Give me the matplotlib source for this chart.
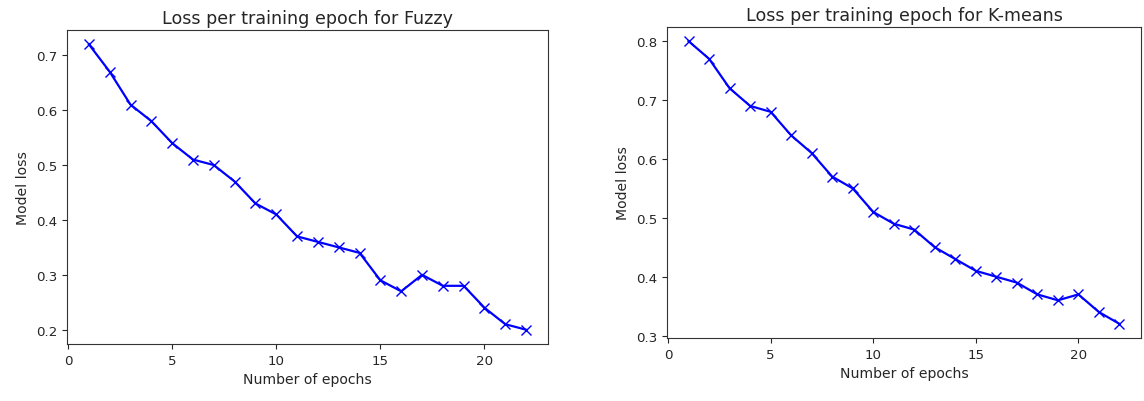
import matplotlib
matplotlib.use("Agg")
import matplotlib.pyplot as plt

# epochs and losses
epochs = list(range(1, 23))
fuzzy_loss = [0.72, 0.67, 0.61, 0.58, 0.54, 0.51, 0.50, 0.47, 0.43, 0.41, 0.37,
              0.36, 0.35, 0.34, 0.29, 0.27, 0.30, 0.28, 0.28, 0.24, 0.21, 0.20]
kmeans_loss = [0.80, 0.77, 0.72, 0.69, 0.68, 0.64, 0.61, 0.57, 0.55, 0.51, 0.49,
               0.48, 0.45, 0.43, 0.41, 0.40, 0.39, 0.37, 0.36, 0.37, 0.34, 0.32]

titles = ["Loss per training epoch for Fuzzy", "Loss per training epoch for K-means"]
series = [fuzzy_loss, kmeans_loss]

TICK_SIZE = 9.6
LABEL_SIZE = 10.1
TITLE_SIZE = 12.6
TEXT_COLOR = "#262626"

fig = plt.figure(figsize=(11.44, 4.02), dpi=100)
axes = [
    fig.add_axes([67 / 1144, 1 - 345 / 402, (548 - 67) / 1144, (345 - 31) / 402]),
    fig.add_axes([667 / 1144, 1 - 339 / 402, (1141 - 667) / 1144, (339 - 28) / 402]),
]

for ax, title, loss in zip(axes, titles, series):
    ax.plot(epochs, loss, color="blue", marker="x", markersize=7, linewidth=1.6)
    ax.set_title(title, fontsize=TITLE_SIZE, color=TEXT_COLOR, pad=5)
    ax.set_xlabel("Number of epochs", fontsize=LABEL_SIZE, color=TEXT_COLOR, labelpad=4)
    ax.set_ylabel("Model loss", fontsize=LABEL_SIZE, color=TEXT_COLOR)
    ax.set_xticks([0, 5, 10, 15, 20])
    ax.tick_params(labelsize=TICK_SIZE, colors=TEXT_COLOR)
    for s in ax.spines.values():
        s.set_color("#333333")

fig.savefig("out.png", dpi=100)
